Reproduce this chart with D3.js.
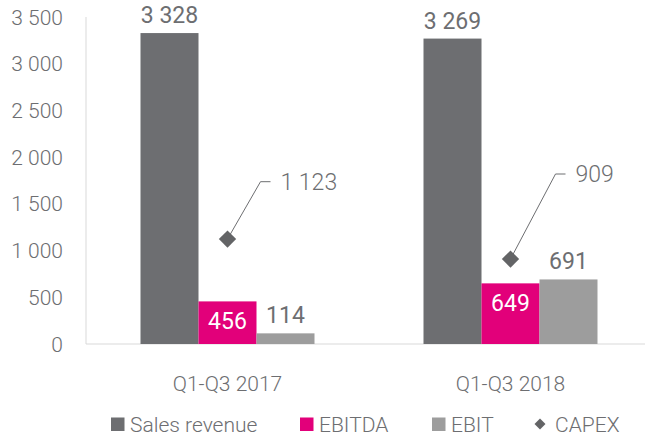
<!DOCTYPE html>
<html>
<head>
<meta charset="utf-8">
<script src="https://cdn.jsdelivr.net/npm/d3@7"></script>
<style>
  body { margin: 0; background: #fff; }
  text { font-family: Roboto, "DejaVu Sans Condensed", sans-serif; font-weight: 300; fill: #6d6e71; }
</style>
</head>
<body>
<svg id="chart" width="645" height="436"></svg>
<script>
const categories = ["Q1-Q3 2017", "Q1-Q3 2018"];
const seriesNames = ["Sales revenue", "EBITDA", "EBIT"];
const salesRevenue = [3328, 3269];
const ebitda = [456, 649];
const ebit = [114, 691];
const capex = [1123, 909];
const yTicks = [0, 500, 1000, 1500, 2000, 2500, 3000, 3500];

const colors = ["#6d6e71", "#e2007a", "#9d9d9d"];
const capexColor = "#636466";

let margin = {top: 17, left: 86, right: -7, bottom: 92};
let width = 645 - margin.left - margin.right;
let height = 436 - margin.top - margin.bottom;

let svg = d3.select("#chart")
    .append("g")
    .attr("transform", "translate(" + margin.left + "," + margin.top + ")");

let x = d3.scaleBand()
    .domain(categories)
    .range([0, width]);

let xInner = d3.scaleBand()
    .domain(seriesNames)
    .range([0, 174]);

let y = d3.scaleLinear()
    .domain([0, 3500])
    .range([height, 0]);

let fmt = v => d3.format(",")(v).replace(/,/g, " ");

// axes
svg.append("line")
    .attr("x1", 0).attr("x2", 0)
    .attr("y1", 0).attr("y2", height)
    .attr("stroke", "#d9d9d9");
svg.append("line")
    .attr("x1", 0).attr("x2", width)
    .attr("y1", height).attr("y2", height)
    .attr("stroke", "#d9d9d9");

svg.selectAll(".ytick")
    .data(yTicks)
    .enter().append("text")
    .attr("class", "ytick")
    .attr("x", -23)
    .attr("y", d => y(d))
    .attr("dy", "0.36em")
    .attr("text-anchor", "end")
    .attr("font-size", 21)
    .text(d => fmt(d));

svg.selectAll(".xlabel")
    .data(categories)
    .enter().append("text")
    .attr("class", "xlabel")
    .attr("x", d => x(d) + x.bandwidth() / 2)
    .attr("y", height + 47)
    .attr("text-anchor", "middle")
    .attr("font-size", 21)
    .text(d => d);

// bars
let rows = categories.map((c, i) => ({
    cat: c,
    values: [salesRevenue[i], ebitda[i], ebit[i]],
    capex: capex[i]
}));

let groups = svg.selectAll(".group")
    .data(rows)
    .enter().append("g")
    .attr("class", "group")
    .attr("transform", d => "translate(" + (x(d.cat) + x.bandwidth() / 2 - 87) + ",0)");

groups.selectAll("rect")
    .data(d => d.values.map((v, j) => ({name: seriesNames[j], value: v, j: j})))
    .enter().append("rect")
    .attr("x", d => xInner(d.name))
    .attr("width", xInner.bandwidth())
    .attr("y", d => y(d.value))
    .attr("height", d => height - y(d.value))
    .attr("fill", d => colors[d.j]);

// value labels: EBITDA goes inside the bar in white, others above
groups.selectAll(".vlabel")
    .data(d => d.values.map((v, j) => ({name: seriesNames[j], value: v, j: j})))
    .enter().append("text")
    .attr("class", "vlabel")
    .attr("x", d => xInner(d.name) + xInner.bandwidth() / 2)
    .attr("y", d => d.j === 1 ? y(d.value) + 28 : y(d.value) - 10)
    .attr("text-anchor", "middle")
    .attr("font-size", 23)
    .style("font-weight", 400)
    .style("fill", d => d.j === 1 ? "#fff" : "#6d6e71")
    .text(d => fmt(d.value));

// capex diamonds with leader lines
let cx = d => x(d.cat) + x.bandwidth() / 2;
let elbowY = [181.7, 174];
let elbowDx = [33, 45];

svg.selectAll(".leader")
    .data(rows)
    .enter().append("path")
    .attr("class", "leader")
    .attr("fill", "none")
    .attr("stroke", "#6d6e71")
    .attr("stroke-width", 1)
    .attr("d", (d, i) => {
        let ey = elbowY[i] - margin.top;
        return "M" + cx(d) + "," + y(d.capex) + "L" + (cx(d) + elbowDx[i]) + "," + ey + "H" + (cx(d) + elbowDx[i] + 10);
    });

svg.selectAll(".diamond")
    .data(rows)
    .enter().append("path")
    .attr("class", "diamond")
    .attr("d", d3.symbol().type(d3.symbolSquare).size(150))
    .attr("transform", d => "translate(" + cx(d) + "," + y(d.capex) + ") rotate(45)")
    .attr("fill", capexColor);

svg.selectAll(".capexLabel")
    .data(rows)
    .enter().append("text")
    .attr("class", "capexLabel")
    .attr("x", (d, i) => cx(d) + elbowDx[i] + 20)
    .attr("y", (d, i) => elbowY[i] - margin.top)
    .attr("dy", "0.36em")
    .attr("font-size", 23)
    .text(d => fmt(d.capex));

// legend
let legendItems = [
    {name: "Sales revenue", color: colors[0], x: 111, type: "square"},
    {name: "EBITDA", color: colors[1], x: 300, type: "square"},
    {name: "EBIT", color: colors[2], x: 432, type: "square"},
    {name: "CAPEX", color: capexColor, x: 534, type: "diamond"}
];

let legend = d3.select("#chart").append("g");
let li = legend.selectAll(".li")
    .data(legendItems)
    .enter().append("g")
    .attr("transform", d => "translate(" + d.x + ",424)");

li.filter(d => d.type === "square").append("rect")
    .attr("x", 0).attr("y", -6.5)
    .attr("width", 13.5).attr("height", 13.5)
    .attr("fill", d => d.color);

li.filter(d => d.type === "diamond").append("path")
    .attr("d", d3.symbol().type(d3.symbolSquare).size(60))
    .attr("transform", "translate(6,0) rotate(45)")
    .attr("fill", d => d.color);

li.append("text")
    .attr("x", d => d.type === "diamond" ? 21 : 19)
    .attr("y", 0)
    .attr("dy", "0.36em")
    .attr("font-size", 21)
    .text(d => d.name);
</script>
</body>
</html>
